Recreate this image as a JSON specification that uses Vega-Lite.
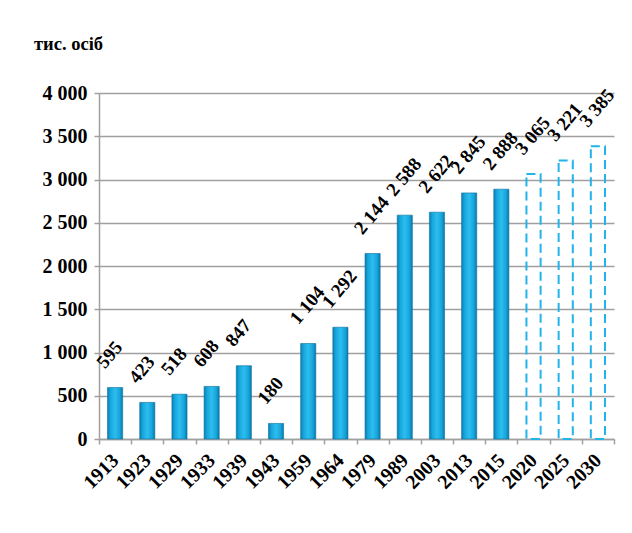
{
  "$schema": "https://vega.github.io/schema/vega-lite/v6.json",
  "width": 515,
  "height": 346,
  "autosize": {"type": "none"},
  "padding": {"left": 99, "top": 93, "right": 18, "bottom": 94},
  "background": "white",
  "title": {
    "text": "тис. осіб",
    "anchor": "start",
    "frame": "group",
    "dx": -65,
    "offset": 30,
    "font": "Liberation Serif",
    "fontSize": 18.5,
    "fontWeight": "bold",
    "color": "#000000"
  },
  "data": {
    "values": [
      {"year": "1913", "value": 595, "label": "595", "type": "actual"},
      {"year": "1923", "value": 423, "label": "423", "type": "actual"},
      {"year": "1929", "value": 518, "label": "518", "type": "actual"},
      {"year": "1933", "value": 608, "label": "608", "type": "actual"},
      {"year": "1939", "value": 847, "label": "847", "type": "actual"},
      {"year": "1943", "value": 180, "label": "180", "type": "actual"},
      {"year": "1959", "value": 1104, "label": "1 104", "type": "actual"},
      {"year": "1964", "value": 1292, "label": "1 292", "type": "actual"},
      {"year": "1979", "value": 2144, "label": "2 144", "type": "actual"},
      {"year": "1989", "value": 2588, "label": "2 588", "type": "actual"},
      {"year": "2003", "value": 2622, "label": "2 622", "type": "actual"},
      {"year": "2013", "value": 2845, "label": "2 845", "type": "actual"},
      {"year": "2015", "value": 2888, "label": "2 888", "type": "actual"},
      {"year": "2020", "value": 3065, "label": "3 065", "type": "forecast"},
      {"year": "2025", "value": 3221, "label": "3 221", "type": "forecast"},
      {"year": "2030", "value": 3385, "label": "3 385", "type": "forecast"}
    ]
  },
  "encoding": {
    "x": {
      "field": "year",
      "type": "ordinal",
      "sort": null,
      "scale": {"paddingInner": 0, "paddingOuter": 0},
      "axis": {
        "title": null,
        "labelAngle": -45,
        "labelAlign": "right",
        "labelBaseline": "middle",
        "labelPadding": 13,
        "labelFont": "Liberation Serif",
        "labelFontSize": 20,
        "labelFontWeight": "bold",
        "labelColor": "#000000",
        "tickBand": "extent",
        "tickSize": 5,
        "tickColor": "#a0a0a0",
        "tickWidth": 1.5,
        "domainColor": "#a0a0a0",
        "domainWidth": 1.5,
        "grid": false
      }
    },
    "y": {
      "field": "value",
      "type": "quantitative",
      "scale": {"domain": [0, 4000], "nice": false},
      "axis": {
        "title": null,
        "values": [0, 500, 1000, 1500, 2000, 2500, 3000, 3500, 4000],
        "labelExpr": "replace(format(datum.value, ','), ',', ' ')",
        "labelFont": "Liberation Serif",
        "labelFontSize": 20,
        "labelFontWeight": "bold",
        "labelColor": "#000000",
        "labelPadding": 7,
        "tickSize": 5,
        "tickColor": "#a0a0a0",
        "tickWidth": 1.5,
        "domainColor": "#a0a0a0",
        "domainWidth": 1.5,
        "grid": true,
        "gridColor": "#a0a0a0",
        "gridWidth": 1.5
      }
    }
  },
  "layer": [
    {
      "transform": [{"filter": "datum.type == 'actual'"}],
      "mark": {
        "type": "bar",
        "width": {"band": 0.47},
        "color": {
          "gradient": "linear",
          "x1": 0, "y1": 0, "x2": 1, "y2": 0,
          "stops": [
            {"offset": 0, "color": "#0b7fb4"},
            {"offset": 0.2, "color": "#16a7dd"},
            {"offset": 0.5, "color": "#2ebdee"},
            {"offset": 0.8, "color": "#16a6dc"},
            {"offset": 1, "color": "#0a78ab"}
          ]
        },
        "stroke": "#0c6f9c",
        "strokeWidth": 0.6
      }
    },
    {
      "transform": [{"filter": "datum.type == 'forecast'"}],
      "mark": {
        "type": "bar",
        "width": {"band": 0.44},
        "fill": "#ffffff",
        "fillOpacity": 0,
        "stroke": "#20b4ea",
        "strokeWidth": 2,
        "strokeDash": [9, 5]
      }
    },
    {
      "mark": {
        "type": "text",
        "angle": -50,
        "align": "left",
        "baseline": "alphabetic",
        "xOffset": -10,
        "yOffset": -18,
        "font": "Liberation Serif",
        "fontSize": 19,
        "fontWeight": "bold",
        "color": "#000000"
      },
      "encoding": {"text": {"field": "label"}}
    }
  ],
  "config": {"view": {"stroke": null}}
}
